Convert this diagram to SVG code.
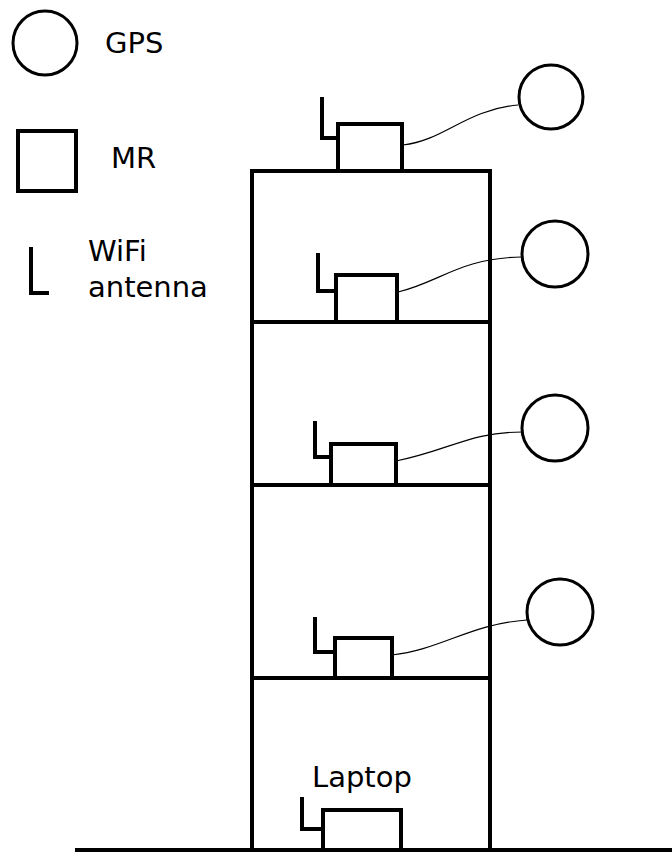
<svg xmlns="http://www.w3.org/2000/svg" width="672" height="852" viewBox="0 0 672 852">
<style>
.t{font-family:"DejaVu Sans","Liberation Sans",sans-serif;font-size:29px;fill:#000}
.b{fill:none;stroke:#000;stroke-width:4}
.g{fill:#fff;stroke:#000;stroke-width:3}
.m{fill:#fff;stroke:#000;stroke-width:4}
.a{fill:none;stroke:#000;stroke-width:4;stroke-linejoin:miter}
.c{fill:none;stroke:#000;stroke-width:1.2}
</style>
<rect width="672" height="852" fill="#fff"/>
<g id="legend">
<circle class="g" cx="45" cy="43" r="32"/>
<text class="t" x="105" y="53">GPS</text>
<rect class="m" x="18" y="131" width="58" height="60"/>
<text class="t" x="111" y="168">MR</text>
<path class="a" d="M31,247 V293 H49"/>
<text class="t" x="88" y="261">WiFi</text>
<text class="t" x="88" y="297">antenna</text>
</g>
<g id="building">
<rect class="b" x="252" y="171" width="238" height="679"/>
<line class="b" x1="252" y1="322" x2="490" y2="322"/>
<line class="b" x1="252" y1="485" x2="490" y2="485"/>
<line class="b" x1="252" y1="678" x2="490" y2="678"/>
<line class="b" x1="75" y1="850" x2="672" y2="850"/>
</g>
<g id="connectors">
<path class="c" d="M403,145 C445,140 465,110 518,105"/>
<path class="c" d="M398,292 C440,282 460,258 522,257"/>
<path class="c" d="M396,461 C450,450 470,432 522,432"/>
<path class="c" d="M392,655 C440,650 470,624 527,620"/>
</g>
<g id="roof-mr">
<path class="a" d="M322,97 V138 H338"/>
<rect class="m" x="338" y="124" width="64" height="47"/>
</g>
<g id="gps1"><circle class="g" cx="551" cy="97" r="32"/></g>
<g id="floor1-mr">
<path class="a" d="M318,253 V291 H336"/>
<rect class="m" x="336" y="275" width="61" height="47"/>
</g>
<g id="gps2"><circle class="g" cx="555" cy="254" r="33"/></g>
<g id="floor2-mr">
<path class="a" d="M315,421 V457 H331"/>
<rect class="m" x="331" y="444" width="65" height="41"/>
</g>
<g id="gps3"><circle class="g" cx="555" cy="428" r="33"/></g>
<g id="floor3-mr">
<path class="a" d="M315,617 V652 H335"/>
<rect class="m" x="335" y="638" width="57" height="40"/>
</g>
<g id="gps4"><circle class="g" cx="560" cy="612" r="33"/></g>
<g id="laptop">
<text class="t" x="312" y="787">Laptop</text>
<path class="a" d="M302,797 V829 H323"/>
<rect class="m" x="323" y="810" width="78" height="40"/>
</g>
</svg>
